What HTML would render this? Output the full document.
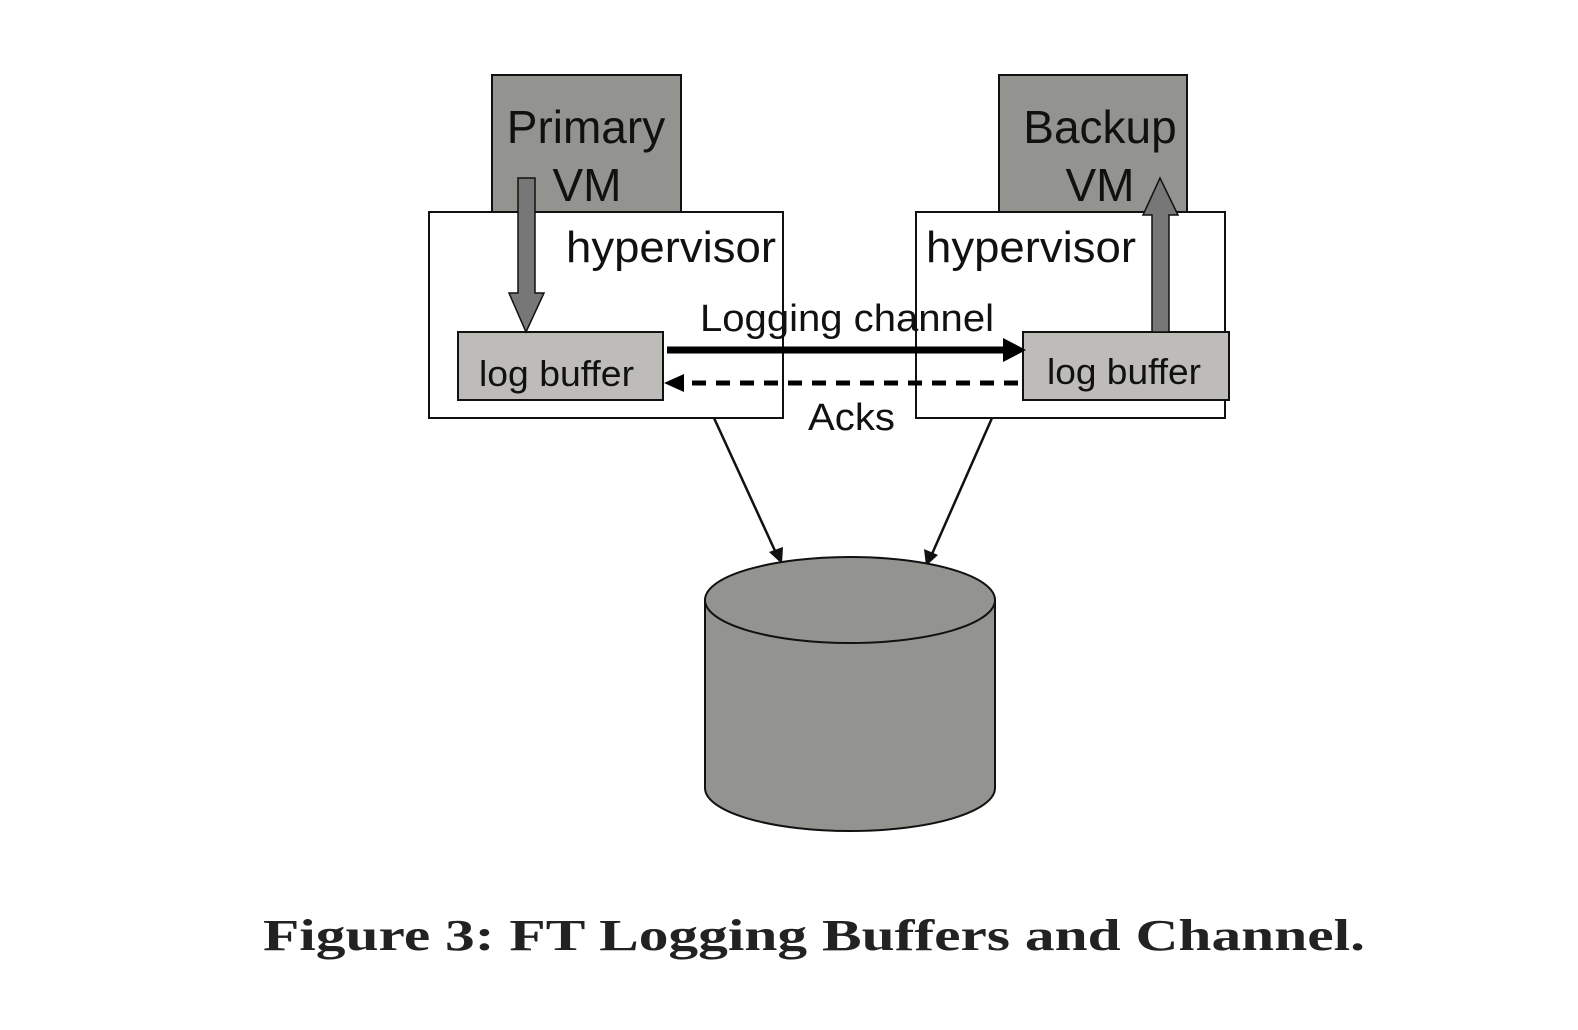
<!DOCTYPE html>
<html><head><style>html,body{margin:0;padding:0;background:#fff;width:1578px;height:1030px;overflow:hidden}</style></head>
<body>
<svg width="1578" height="1030" viewBox="0 0 1578 1030" xmlns="http://www.w3.org/2000/svg" font-family="'Liberation Sans', sans-serif">
<rect x="492" y="75" width="189" height="137" fill="#939390" stroke="#111" stroke-width="2"/>
<rect x="999" y="75" width="188" height="137" fill="#939390" stroke="#111" stroke-width="2"/>
<rect x="429" y="212" width="354" height="206" fill="#fff" stroke="#111" stroke-width="2"/>
<rect x="916" y="212" width="309" height="206" fill="#fff" stroke="#111" stroke-width="2"/>
<text x="586" y="143" font-size="46" text-anchor="middle" fill="#111">Primary</text>
<text x="587" y="201" font-size="46" text-anchor="middle" fill="#111">VM</text>
<text x="1100" y="143" font-size="46" text-anchor="middle" fill="#111">Backup</text>
<text x="1100" y="201" font-size="46" text-anchor="middle" fill="#111">VM</text>
<text x="566" y="262" font-size="44" fill="#111" textLength="210" lengthAdjust="spacingAndGlyphs">hypervisor</text>
<text x="926" y="262" font-size="44" fill="#111" textLength="210" lengthAdjust="spacingAndGlyphs">hypervisor</text>
<rect x="458" y="332" width="205" height="68" fill="#bdbcb8" stroke="#111" stroke-width="2"/>
<rect x="1023" y="332" width="206" height="68" fill="#bdbcb8" stroke="#111" stroke-width="2"/>
<text x="479" y="386" font-size="36" fill="#111" textLength="155" lengthAdjust="spacingAndGlyphs">log buffer</text>
<text x="1047" y="384" font-size="36" fill="#111" textLength="154" lengthAdjust="spacingAndGlyphs">log buffer</text>
<polygon points="518,178 535,178 535,293 544,293 526,332 509,293 518,293" fill="#777" stroke="#111" stroke-width="1.5"/>
<polygon points="1152,332 1169,332 1169,215 1178,215 1160,178 1143,215 1152,215" fill="#777" stroke="#111" stroke-width="1.5"/>
<text x="700" y="331" font-size="38" fill="#111" textLength="294" lengthAdjust="spacingAndGlyphs">Logging channel</text>
<line x1="667" y1="350" x2="1005" y2="350" stroke="#000" stroke-width="7"/>
<polygon points="1003,338 1026,350 1003,362" fill="#000"/>
<line x1="1018" y1="383" x2="682" y2="383" stroke="#000" stroke-width="5" stroke-dasharray="14,10"/>
<polygon points="684,374 664,383 684,392" fill="#000"/>
<text x="808" y="430" font-size="38" fill="#111" textLength="87" lengthAdjust="spacingAndGlyphs">Acks</text>
<line x1="714" y1="418" x2="776" y2="553" stroke="#111" stroke-width="2.5"/>
<polygon points="769,552 782,564 783,547" fill="#111"/>
<line x1="992" y1="418" x2="932" y2="554" stroke="#111" stroke-width="2.5"/>
<polygon points="924,549 926,566 938,555" fill="#111"/>
<path d="M705,600 L705,788 A145,43 0 0 0 995,788 L995,600 Z" fill="#939390" stroke="#111" stroke-width="2"/>
<ellipse cx="850" cy="600" rx="145" ry="43" fill="#939390" stroke="#111" stroke-width="2"/>
<text x="263" y="950" font-size="44" font-weight="bold" font-family="'Liberation Serif', serif" fill="#222" textLength="1102" lengthAdjust="spacingAndGlyphs">Figure 3: FT Logging Buffers and Channel.</text>
</svg>
</body></html>
